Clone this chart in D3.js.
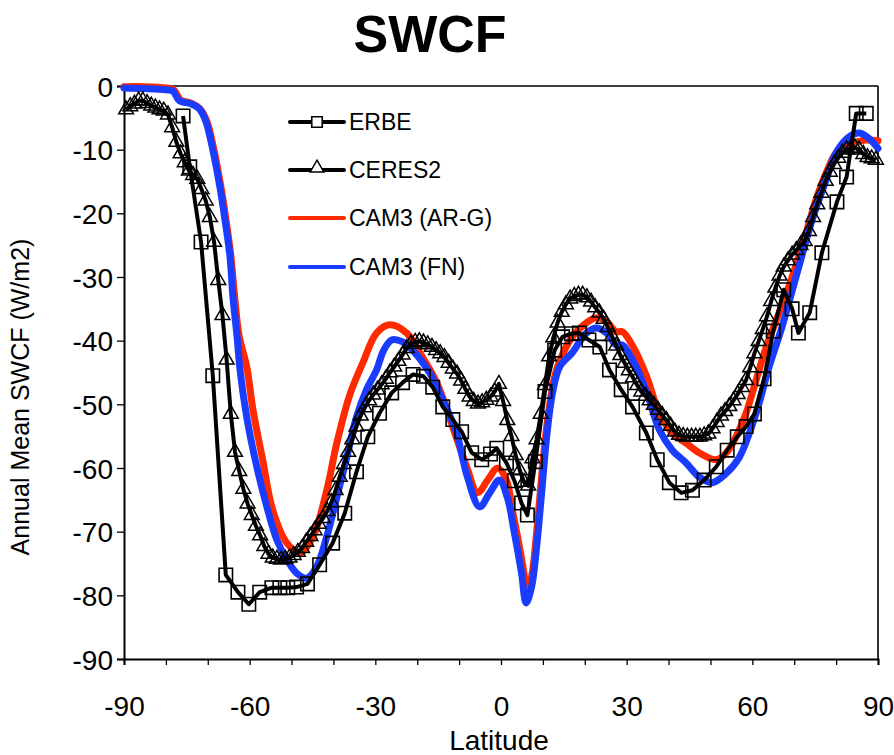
<!DOCTYPE html>
<html>
<head>
<meta charset="utf-8">
<script src="https://cdn.jsdelivr.net/npm/d3@7"></script>
<style>
  html, body { margin: 0; padding: 0; background: #fff; }
  svg { display: block; font-family: "Liberation Sans", Arial, sans-serif; }
</style>
</head>
<body>
<svg id="chart" width="894" height="755"></svg>
<script>
// ---------------- DATA ----------------
const xTicks = [-90, -60, -30, 0, 30, 60, 90];
const yTicks = [0, -10, -20, -30, -40, -50, -60, -70, -80, -90];
const seriesNames = ["ERBE", "CERES2", "CAM3 (AR-G)", "CAM3 (FN)"];

// ERBE (squares)
const erbeLat = [-75.9, -74.3, -71.6, -68.8, -65.7, -62.8, -60.2, -57.6, -54.7, -52.8, -50.9, -48.8, -46.2,
  -43.3, -40.2, -37.3, -34.5, -31.8, -29.0, -26.1, -23.5, -21.0, -18.5, -16.3, -13.9, -11.5, -9.4, -7.0,
  -4.6, -2.5, -1.0, 1.3, 3.2, 4.9, 6.3, 8.2, 10.5, 12.8, 14.7, 16.8, 18.7, 21.0, 23.6, 25.9, 28.7, 31.4,
  34.7, 37.3, 40.2, 43.0, 45.7, 48.5, 51.4, 54.0, 56.4, 58.5, 60.5, 62.8, 65.0, 67.5, 69.5, 71.0, 73.7,
  76.6, 80.2, 82.5, 84.8, 87.2];
const erbeVal = [-4.7, -12.7, -24.5, -45.5, -76.8, -79.5, -81.4, -79.5, -78.8, -78.8, -78.8, -78.7, -78.2,
  -75.2, -71.8, -67.1, -60.6, -55.1, -51.4, -48.2, -46.6, -45.3, -45.6, -47.3, -50.4, -52.4, -54.3, -57.6,
  -58.7, -57.8, -56.9, -59.2, -62.0, -65.5, -67.4, -59.0, -48.0, -41.5, -39.4, -38.9, -38.8, -39.9, -41.0,
  -44.6, -47.7, -50.4, -54.5, -58.7, -62.3, -63.9, -63.5, -61.9, -59.8, -57.2, -55.1, -53.5, -51.5, -46.0,
  -38.5, -32.0, -35.0, -38.8, -35.6, -26.2, -18.2, -14.3, -4.3, -4.3];

// CERES2 (triangles), 1-degree latitude centres
const ceresLat = d3.range(-89.5, 90, 1);
const ceresVal = [
  -3.7, -3.2, -2.8, -2.3, -2.3, -2.7, -3.1, -3.4, -3.7, -3.9,   // -89.5 .. -80.5
  -4.5, -6.5, -8.8, -10.6, -12.0, -13.3, -14.0, -14.6, -16.2, -18.0, // -79.5 .. -70.5
  -20.6, -24.5, -30.5, -36.0, -43.0, -51.5, -57.5, -60.5, -63.3, -65.6, // -69.5 .. -60.5
  -67.4, -69.1, -70.6, -72.3, -73.5, -74.1, -74.3, -74.4, -74.3, -74.1, // -59.5 .. -50.5
  -73.7, -73.2, -72.6, -71.6, -70.7, -69.8, -68.8, -67.9, -66.8, -65.4, // -49.5 .. -40.5
  -63.5, -61.4, -59.4, -57.5, -55.5, -53.5, -51.8, -50.5, -49.4, -48.5, // -39.5 .. -30.5
  -47.7, -46.9, -46.0, -45.0, -44.1, -43.2, -42.2, -41.2, -40.5, -40.2, // -29.5 .. -20.5
  -40.1, -40.3, -40.6, -41.0, -41.5, -42.0, -42.6, -43.5, -44.4, -45.2, // -19.5 .. -10.5
  -46.3, -47.6, -48.8, -49.5, -49.9, -49.7, -49.3, -48.8, -48.0, -46.8, // -9.5 .. -0.5
  -49.5, -52.5, -55.0, -58.0, -60.4, -62.2, -62.8, -58.5, -55.5, -51.5, // 0.5 .. 9.5
  -47.0, -42.5, -39.5, -37.2, -35.5, -34.3, -33.4, -33.0, -32.8, -32.8, // 10.5 .. 19.5
  -33.2, -33.9, -34.8, -35.6, -36.6, -37.9, -39.3, -40.8, -42.3, -43.5, // 20.5 .. 29.5
  -44.7, -45.8, -47.0, -48.0, -48.7, -49.4, -50.1, -50.9, -51.7, -52.5, // 30.5 .. 39.5
  -53.4, -54.3, -54.8, -55.0, -55.1, -55.1, -55.1, -55.1, -54.9, -54.6, // 40.5 .. 49.5
  -53.8, -52.8, -51.8, -51.1, -50.3, -49.4, -48.4, -47.3, -46.2, -44.2, // 50.5 .. 59.5
  -42.0, -40.1, -38.2, -36.2, -33.8, -31.7, -29.8, -28.4, -27.4, -26.5, // 60.5 .. 69.5
  -25.8, -25.0, -24.4, -22.8, -20.6, -18.6, -16.8, -14.9, -13.5, -12.3, // 70.5 .. 79.5
  -11.3, -10.5, -10.0, -9.8, -9.7, -10.0, -10.7, -11.2, -11.4, -11.6   // 80.5 .. 89.5
];

// CAM3 (AR-G) – red
const argLat = [-90, -85, -80, -78.1, -76.5, -74, -72, -70.3, -68.6, -66.9, -65.7, -64.5, -63.6, -62.5,
  -60.7, -59.2, -56.9, -54.5, -51.1, -48, -44.9, -41.6, -39.2, -36.1, -33, -29.7, -26.6, -22.5, -19.4,
  -15.4, -11.5, -8.2, -5.6, -3.2, -0.8, 1.3, 2.7, 4.4, 5.6, 6.1, 7.3, 8.5, 9.7, 10.9, 12.3, 13.5, 17,
  20.4, 22.8, 25.2, 27.5, 29, 31.4, 34.7, 37.8, 40.9, 44.2, 47.3, 51.4, 53.8, 56.1, 58.5, 60.9, 63.3,
  66.4, 69.5, 72.8, 75.2, 77.6, 80, 82.4, 84.8, 87.1, 90];
const argVal = [-0.1, -0.1, -0.3, -0.6, -2.2, -2.7, -3.5, -5.4, -9.8, -15.7, -20.8, -26.6, -33, -39.3,
  -44.1, -50.9, -58.7, -66.6, -71.8, -73.3, -70.8, -63.5, -56.1, -48.5, -43.5, -38.8, -37.5, -38.8, -41.9,
  -46.5, -53.6, -59.8, -63.9, -61.9, -60, -61.9, -66.6, -72.4, -77.1, -79.8, -77.1, -70.2, -61.4, -53.6,
  -47.3, -44.1, -39.4, -37.2, -36.4, -37, -38.6, -38.6, -40.8, -45.5, -51.4, -54.5, -56.1, -57.6, -58.7,
  -57.6, -55.1, -51.4, -46.2, -41, -35.6, -30, -23.1, -17.9, -13.7, -10.5, -9.3, -8.8, -8.5, -8.6];

// CAM3 (FN) – blue
const fnLat = [-90, -85, -80, -78.3, -76.8, -74, -72, -70.5, -68.8, -67.1, -65.9, -64.7, -64, -63, -62.3,
  -60.7, -58.3, -55.9, -53.5, -51.1, -48.8, -46.4, -44, -41.6, -39.2, -36.8, -34.5, -32.1, -29.7, -28,
  -26.1, -23.5, -21.1, -17, -13.9, -10.6, -8.2, -5.1, -2.7, -0.4, 1.5, 3.2, 4.9, 6.0, 7.3, 8.5, 9.7, 10.9,
  12.3, 14, 17, 20.4, 22.8, 25.2, 27.5, 29, 31.4, 34.7, 37.8, 40.9, 44.2, 47.3, 50.4, 53.8, 56.9, 60.9,
  64, 67.1, 71.1, 74.3, 77.6, 80, 83.1, 85.5, 87.8, 90];
const fnVal = [-0.3, -0.4, -0.6, -0.8, -2.3, -2.8, -3.6, -5.5, -10, -15.9, -21, -26.8, -33.1, -39.4, -44.6,
  -52, -59.8, -66.1, -71.3, -74.4, -76.5, -77.3, -75.5, -70.8, -64.6, -58.3, -52, -47.7, -44.6, -41.5,
  -39.9, -40.2, -41.5, -45.1, -49.3, -54.5, -61, -66.1, -63.9, -61.9, -64.6, -70.2, -76.5, -81.2, -78.7,
  -72.4, -63.9, -55.1, -48.2, -44.1, -41.9, -38.8, -38, -38.8, -40.7, -40.7, -43, -48, -54, -57.2, -59.2,
  -61.4, -62.3, -60.8, -58.3, -51.4, -44.1, -37.8, -28.4, -21, -14.8, -10.5, -8, -7.4, -8.2, -9.8];

// ---------------- DRAW ----------------
const svg = d3.select("#chart");
const x = d3.scaleLinear().domain([-90, 90]).range([124, 878]);
const y = d3.scaleLinear().domain([-90, 0]).range([659, 86]);

const RED = "#ff2a00", BLUE = "#1a3cff";

// title
svg.append("text").attr("x", 430).attr("y", 52).attr("text-anchor", "middle")
  .attr("font-size", 52).attr("font-weight", "bold").text("SWCF");

// frame (top / right)
svg.append("line").attr("x1", x(-90)).attr("x2", x(90)).attr("y1", y(0)).attr("y2", y(0))
  .attr("stroke", "#000").attr("stroke-width", 1.6);
svg.append("line").attr("x1", x(90)).attr("x2", x(90)).attr("y1", y(0)).attr("y2", y(-90))
  .attr("stroke", "#000").attr("stroke-width", 1.6);

// axes
const fmt = d => String(d);   // plain hyphen-minus as in the reference
const yAxis = d3.axisLeft(y).tickValues(yTicks).tickSize(7).tickFormat(fmt);
const gy = svg.append("g").attr("transform", `translate(${x(-90)},0)`).call(yAxis);
const xAxis = d3.axisBottom(x).tickValues(d3.range(-90, 91, 10)).tickSize(6)
  .tickFormat(d => xTicks.includes(d) ? fmt(d) : "");
const gx = svg.append("g").attr("transform", `translate(0,${y(-90)})`).call(xAxis);
[gx, gy].forEach(g => {
  g.select(".domain").attr("stroke-width", 2);
  g.selectAll(".tick line").attr("stroke-width", 1.3);
  g.selectAll(".tick text").attr("font-size", 28).attr("font-family", "Liberation Sans, Arial, sans-serif")
    .attr("fill", "#000");
});
gy.selectAll(".tick text").attr("x", -11).attr("dy", "0.36em");
gx.selectAll(".tick text").attr("y", 0).attr("dy", 0).attr("transform", "translate(0,57)");

// axis titles
svg.append("text").attr("x", 499).attr("y", 750).attr("text-anchor", "middle")
  .attr("font-size", 28).text("Latitude");
svg.append("text").attr("transform", "translate(29,397) rotate(-90)").attr("text-anchor", "middle")
  .attr("font-size", 25).text("Annual Mean SWCF (W/m2)");

// model lines
const modelLine = (lats, vals) => d3.line()
  .x((d, i) => x(lats[i])).y(d => y(d)).curve(d3.curveCatmullRom.alpha(0.5))(vals);
svg.append("path").attr("d", modelLine(argLat, argVal)).attr("fill", "none")
  .attr("stroke", RED).attr("stroke-width", 7).attr("stroke-linejoin", "round").attr("stroke-linecap", "round");
svg.append("path").attr("d", modelLine(fnLat, fnVal)).attr("fill", "none")
  .attr("stroke", BLUE).attr("stroke-width", 7).attr("stroke-linejoin", "round").attr("stroke-linecap", "round");

// observations
const obsLine = (lats, vals) => d3.line()
  .x((d, i) => x(lats[i])).y(d => y(d))(vals);
svg.append("path").attr("d", obsLine(erbeLat, erbeVal)).attr("fill", "none")
  .attr("stroke", "#000").attr("stroke-width", 4).attr("stroke-linejoin", "round");
svg.append("path").attr("d", obsLine(ceresLat, ceresVal)).attr("fill", "none")
  .attr("stroke", "#000").attr("stroke-width", 4).attr("stroke-linejoin", "round");

const sq = d3.symbol().type(d3.symbolSquare).size(180);
const tri = d3.symbol().type(d3.symbolTriangle).size(95);
svg.append("g").selectAll("path").data(erbeVal).join("path")
  .attr("transform", (d, i) => `translate(${x(erbeLat[i])},${y(d)})`)
  .attr("d", sq).attr("fill", "none").attr("stroke", "#000").attr("stroke-width", 1.6);
svg.append("g").selectAll("path").data(ceresVal).join("path")
  .attr("transform", (d, i) => `translate(${x(ceresLat[i])},${y(d)})`)
  .attr("d", tri).attr("fill", "none").attr("stroke", "#000").attr("stroke-width", 1.5);

// legend
const legY = [122, 170, 218, 267];
const legColors = ["#000", "#000", RED, BLUE];
seriesNames.forEach((name, i) => {
  const g = svg.append("g");
  g.append("line").attr("x1", 290).attr("x2", 344).attr("y1", legY[i]).attr("y2", legY[i])
    .attr("stroke", legColors[i]).attr("stroke-width", 4).attr("stroke-linecap", "round");
  if (i === 0) g.append("path").attr("transform", `translate(317,${legY[i]})`).attr("d", d3.symbol().type(d3.symbolSquare).size(110))
    .attr("fill", "#fff").attr("stroke", "#000").attr("stroke-width", 1.6);
  if (i === 1) g.append("path").attr("transform", `translate(317,${legY[i] - 2})`).attr("d", d3.symbol().type(d3.symbolTriangle).size(80))
    .attr("fill", "#fff").attr("stroke", "#000").attr("stroke-width", 1.5);
  g.append("text").attr("x", 349).attr("y", legY[i] + 8).attr("font-size", 23).text(name);
});
</script>
</body>
</html>
